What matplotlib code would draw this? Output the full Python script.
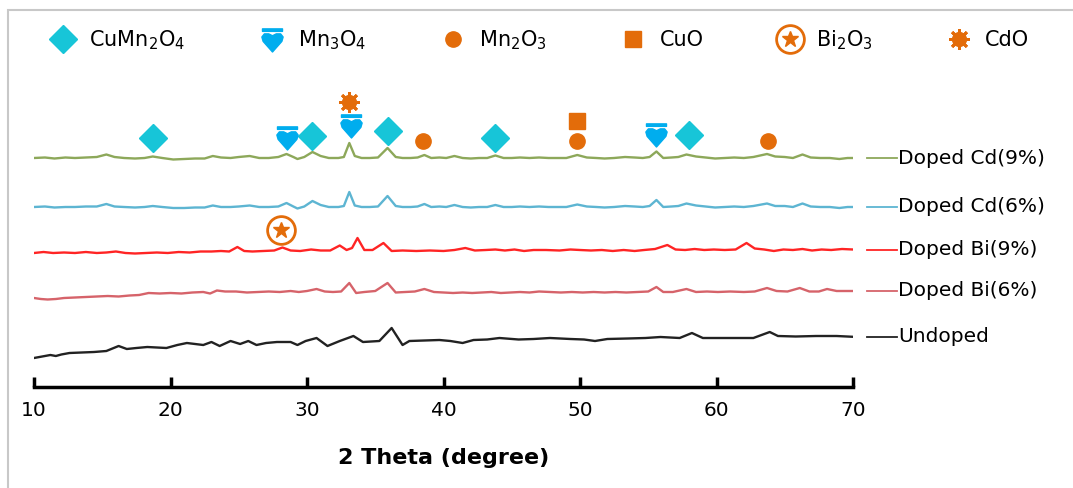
import matplotlib
matplotlib.use('Agg')
import matplotlib.pyplot as plt
import numpy as np
from matplotlib.lines import Line2D
from matplotlib.path import Path
from matplotlib.patches import Rectangle
from matplotlib.legend_handler import HandlerTuple

# ---- data (2 theta in degree, intensity in a.u. with offsets) ----
two_theta_cd = [10.0, 10.8, 11.5, 12.3, 13.0, 13.8, 14.6, 15.3, 15.9, 16.6,
                17.4, 18.1, 18.7, 19.4, 20.2, 21.0, 21.8, 22.5, 23.1, 23.7,
                24.4, 25.0, 25.8, 26.5, 27.2, 27.9, 28.5, 29.0, 29.3, 29.8,
                30.4, 31.0, 31.6, 32.3, 32.7, 33.1, 33.5, 34.0, 34.6, 35.2,
                35.9, 36.5, 37.0, 37.6, 38.1, 38.6, 39.1, 39.7, 40.2, 40.8,
                41.4, 42.0, 42.6, 43.2, 43.8, 44.4, 45.0, 45.6, 46.3, 47.0,
                47.7, 48.3, 49.0, 49.8, 50.5, 51.2, 51.8, 52.5, 53.3, 54.0,
                54.6, 55.1, 55.6, 56.1, 56.7, 57.2, 57.8, 58.5, 59.2, 59.9,
                60.6, 61.3, 62.0, 62.7, 63.7, 64.3, 65.0, 65.6, 66.3, 66.9,
                67.6, 68.3, 69.0, 69.6, 70.2]
cd9 = [229, 229.5, 228.5, 229.5, 229, 229.5, 230, 232.5, 230, 229,
       228.5, 229, 230.5, 229, 227.5, 228, 228.5, 228.5, 231, 229.5,
       229, 230, 231, 229, 229, 230, 233, 230, 228, 230,
       235, 231, 229, 229, 230, 244, 231, 229, 229, 229.5,
       239, 230, 229, 229, 229.5, 232, 229, 229.5, 229, 231,
       229, 228.5, 229, 229, 231.5, 229, 229, 229.5, 229, 229.5,
       229, 229, 229, 232, 229.5, 229, 228.5, 229, 230, 229.5,
       229, 230, 235.5, 229, 229.5, 230, 232.5, 230.5, 229.5, 228.5,
       229, 229.5, 229, 230, 233, 230.5, 230, 229, 232.5, 229.5,
       229, 229, 228, 229, 229]
cd6 = [180, 180.5, 179.5, 180, 180, 180.5, 180.5, 183, 180.5, 180,
       179.5, 180, 181, 180, 179, 179, 179.5, 179.5, 181.5, 180,
       180, 180.5, 181.5, 180, 180, 180.5, 184, 180.5, 178.5, 180.5,
       186, 182, 180, 180, 181, 195, 181.5, 180, 180, 180.5,
       191, 181, 180, 180, 180.5, 183, 180, 180.5, 180, 182,
       180, 179.5, 180, 180, 182, 180, 180, 180.5, 180, 180.5,
       180, 180, 180, 182.5, 180.5, 180, 179.5, 180, 181, 180.5,
       180, 181, 187, 180, 180.5, 181, 183.5, 181.5, 180.5, 179.5,
       180, 180.5, 180, 181, 183.5, 181, 181, 180, 183.5, 180.5,
       180, 180, 179, 180, 180]

two_theta_bi9 = [10.0, 10.7, 11.4, 12.2, 13.0, 13.8, 14.6, 15.3, 16.0, 16.7,
                 17.4, 18.2, 19.0, 19.8, 20.6, 21.4, 22.2, 23.0, 23.7, 24.3,
                 24.9, 25.4, 26.0, 26.8, 27.6, 28.2, 28.8, 29.5, 30.3, 31.0,
                 31.7, 32.4, 32.9, 33.3, 33.7, 34.2, 34.8, 35.6, 36.2, 37.0,
                 38.0, 39.0, 40.0, 40.8, 41.6, 42.3, 43.1, 43.8, 44.5, 45.2,
                 45.9, 46.6, 47.5, 48.5, 49.3, 50.0, 50.8, 51.6, 52.4, 53.2,
                 54.0, 54.7, 55.5, 56.4, 57.0, 57.7, 58.4, 59.1, 59.8, 60.6,
                 61.4, 62.2, 62.8, 63.5, 64.2, 64.9, 65.6, 66.3, 67.0, 67.7,
                 68.4, 69.2, 70.0]
bi9 = [134, 135, 134, 134.5, 134, 135, 134, 134.5, 135.5, 134,
       133.5, 134, 134.5, 134, 135, 134.5, 135.5, 135.5, 136, 135.5,
       140, 136, 135.5, 136, 136.5, 139.5, 136.5, 136, 137.5, 136.5,
       136.5, 141.5, 137, 139, 149, 137, 137, 144, 136, 136.5,
       136, 136.5, 136, 137, 139, 136.5, 137, 137.5, 136.5, 137.5,
       136, 137, 137, 136.5, 137.5, 137, 136.5, 137, 136, 137,
       136, 137, 138, 142, 137.5, 137, 138, 137, 137.5, 137,
       137.5, 144, 138.5, 137.5, 136, 137.5, 137, 138, 136.5, 137.5,
       137, 138, 137.5]

two_theta_bi6 = [10.0, 10.5, 11.0, 11.6, 12.2, 13.0, 13.8, 14.6, 15.4, 16.2,
                 17.0, 17.7, 18.4, 19.2, 20.0, 20.8, 21.6, 22.4, 22.9, 23.4,
                 24.0, 24.8, 25.6, 26.4, 27.2, 28.0, 28.8, 29.4, 30.0, 30.7,
                 31.3, 31.9, 32.5, 33.1, 33.6, 34.2, 35.0, 35.9, 36.5, 37.2,
                 37.9, 38.6, 39.3, 40.0, 40.7, 41.4, 42.1, 42.8, 43.5, 44.2,
                 44.9, 45.6, 46.3, 47.0, 47.8, 48.6, 49.4, 50.2, 51.0, 51.8,
                 52.6, 53.4, 54.2, 55.0, 55.6, 56.1, 56.8, 57.8, 58.5, 59.3,
                 60.1, 61.0, 62.0, 62.8, 63.7, 64.4, 65.2, 66.1, 66.8, 67.5,
                 68.1, 68.8, 69.5, 70.2]
bi6 = [89, 88, 87.5, 88, 89, 89.5, 90, 90.5, 91, 90.5,
       91.5, 92, 94, 93.5, 94, 93.5, 94.5, 95, 93.5, 96.5,
       95.5, 95.5, 94.5, 95, 95.5, 95, 96, 95, 96, 98,
       95.5, 95, 95.5, 104, 94, 95, 96, 104, 94.5, 95,
       95.5, 98, 95, 94.5, 94, 94.5, 94, 94.5, 95, 94,
       94.5, 95, 94.5, 95.5, 95, 94.5, 95, 94.5, 95, 94.5,
       95, 94.5, 95, 95.5, 100, 95, 95, 98, 95, 95.5,
       95, 95.5, 95, 95.5, 99, 96, 95.5, 99, 95.5, 95.5,
       98, 96, 96, 96]

two_theta_un = [10.0, 11.2, 11.6, 12.0, 12.6, 13.5, 14.4, 15.3, 16.2, 16.8,
                17.5, 18.3, 19.0, 19.7, 20.5, 21.2, 21.8, 22.4, 23.0, 23.6,
                24.4, 25.1, 25.7, 26.3, 27.0, 27.8, 28.8, 29.3, 29.9, 30.7,
                31.5, 32.4, 33.4, 34.1, 35.3, 36.2, 37.0, 37.5, 38.6, 39.7,
                40.5, 41.4, 42.2, 43.2, 44.1, 45.5, 46.6, 47.8, 49.3, 50.3,
                51.1, 52.0, 53.5, 54.8, 55.9, 57.3, 58.2, 59.0, 60.8, 62.7,
                63.9, 64.5, 65.8, 67.3, 68.8, 70.3]
undoped = [29, 32, 31, 32.5, 34, 34.5, 35, 36, 41, 38,
           39, 40, 39.5, 39, 42, 44, 43, 42, 45, 41,
           46, 43, 46, 42, 44, 45, 45, 42, 46, 49,
           41, 46, 51, 45, 46, 59, 42, 46, 46.5, 47,
           46, 44, 47, 47.5, 49, 47.5, 48, 49, 48, 47.5,
           46, 48, 48.5, 49, 50, 49, 54, 49, 49, 49,
           55, 51, 50.5, 51, 51, 50]

# phase markers (2 theta, height)
cumn2o4_x = [18.7, 30.4, 35.9, 43.8, 58.0]
cumn2o4_y = [249, 251, 256, 249, 252]
mn3o4_x = [28.5, 33.2, 55.6]
mn3o4_y = [250, 262, 253]
mn2o3_x = [38.5, 49.8, 63.8]
mn2o3_y = [246, 246, 246]
cuo_x = [49.8]
cuo_y = [266]
bi2o3_x = [28.1]
bi2o3_y = [157]
cdo_x = [33.1]
cdo_y = [285]

orange = '#E36C0A'
cyan = '#17C5D8'
blue = '#00ADEE'

# 反向的心形 + 横杠 (Mn3O4 标记)
heart = Path([(0, -1.0), (-0.75, -0.15), (-0.85, 0.2), (-0.65, 0.45), (-0.3, 0.45),
              (0, 0.3), (0.3, 0.45), (0.65, 0.45), (0.85, 0.2), (0.75, -0.15), (0, -1.0)],
             closed=True)
bar = Path([(-0.8, 0.65), (0.8, 0.65), (0.8, 0.85), (-0.8, 0.85), (-0.8, 0.65)], closed=True)
mn3o4_marker = Path.make_compound_path(heart, bar)

plt.rcParams['font.family'] = ['DejaVu Sans']
plt.rcParams['mathtext.fontset'] = 'dejavusans'

fig = plt.figure(figsize=(10.73, 4.88), dpi=100)
W, H = 1073, 488
ax = fig.add_axes([34 / W, 1 - 387 / H, 819 / W, 317 / H])

series = [(two_theta_cd, cd9, '#8DA85A', 'Doped Cd(9%)'),
          (two_theta_cd, cd6, '#5DB5D2', 'Doped Cd(6%)'),
          (two_theta_bi9, bi9, '#FF2424', 'Doped Bi(9%)'),
          (two_theta_bi6, bi6, '#D6636A', 'Doped Bi(6%)'),
          (two_theta_un, undoped, '#222222', 'Undoped')]

for xs, ys, c, lab in series:
    ax.plot(xs, ys, color=c, lw=1.7)
    # 右侧标签
    ax.plot([71.0, 73.2], [ys[-1], ys[-1]], color=c, lw=1.3, clip_on=False)
    ax.text(73.3, ys[-1], lab, fontsize=14.5, va='center', ha='left', clip_on=False)

ax.plot(cumn2o4_x, cumn2o4_y, 'D', color=cyan, ms=14, ls='none')
ax.plot(mn3o4_x, mn3o4_y, marker=mn3o4_marker, color=blue, ms=18, ls='none')
ax.plot(mn2o3_x, mn2o3_y, 'o', color=orange, ms=11, ls='none')
ax.plot(cuo_x, cuo_y, 's', color=orange, ms=11, ls='none')
ax.plot(bi2o3_x, bi2o3_y, 'o', mfc='white', mec=orange, mew=2, ms=20, ls='none')
ax.plot(bi2o3_x, bi2o3_y, '*', color=orange, ms=12, ls='none')
ax.plot(cdo_x, cdo_y, 'o', color=orange, ms=10, ls='none')
ax.plot(cdo_x, cdo_y, marker=(8, 2, 0), color=orange, mew=2, ms=15, ls='none')

ax.set_xlim(10, 70)
ax.set_ylim(0, 317)
ax.set_xticks([10, 20, 30, 40, 50, 60, 70])
ax.set_yticks([])
for s in ['left', 'right', 'top']:
    ax.spines[s].set_visible(False)
ax.spines['bottom'].set_linewidth(2.5)
ax.tick_params(axis='x', direction='in', length=7, width=2.5, labelsize=14.5, pad=10)
ax.set_xlabel('2 Theta (degree)', fontsize=16, fontweight='bold', labelpad=20)
ax.patch.set_alpha(0)

# 图例
h_cumn = Line2D([], [], marker='D', color=cyan, ms=14, ls='none')
h_mn3 = Line2D([], [], marker=mn3o4_marker, color=blue, ms=18, ls='none')
h_mn2 = Line2D([], [], marker='o', color=orange, ms=11, ls='none')
h_cuo = Line2D([], [], marker='s', color=orange, ms=11, ls='none')
h_bi = (Line2D([], [], marker='o', mfc='white', mec=orange, mew=2, ms=20, ls='none'),
        Line2D([], [], marker='*', color=orange, ms=12, ls='none'))
h_cd = (Line2D([], [], marker='o', color=orange, ms=10, ls='none'),
        Line2D([], [], marker=(8, 2, 0), color=orange, mew=2, ms=15, ls='none'))
fig.legend([h_cumn, h_mn3, h_mn2, h_cuo, h_bi, h_cd],
           ['CuMn$_2$O$_4$', 'Mn$_3$O$_4$', 'Mn$_2$O$_3$', 'CuO', 'Bi$_2$O$_3$', 'CdO'],
           ncol=6, loc='center left', bbox_to_anchor=(31 / W, 1 - 40 / H),
           frameon=False, fontsize=15, handlelength=1.3, handletextpad=0.6,
           columnspacing=3.5, handler_map={tuple: HandlerTuple(ndivide=1)})

# 外框
fig.patches.append(Rectangle((8 / W, -0.05), 1.2, 1 - 10 / H + 0.05, transform=fig.transFigure,
                             fill=False, edgecolor='#c8c8c8', lw=1.5))

fig.savefig('out.png', dpi=100)
